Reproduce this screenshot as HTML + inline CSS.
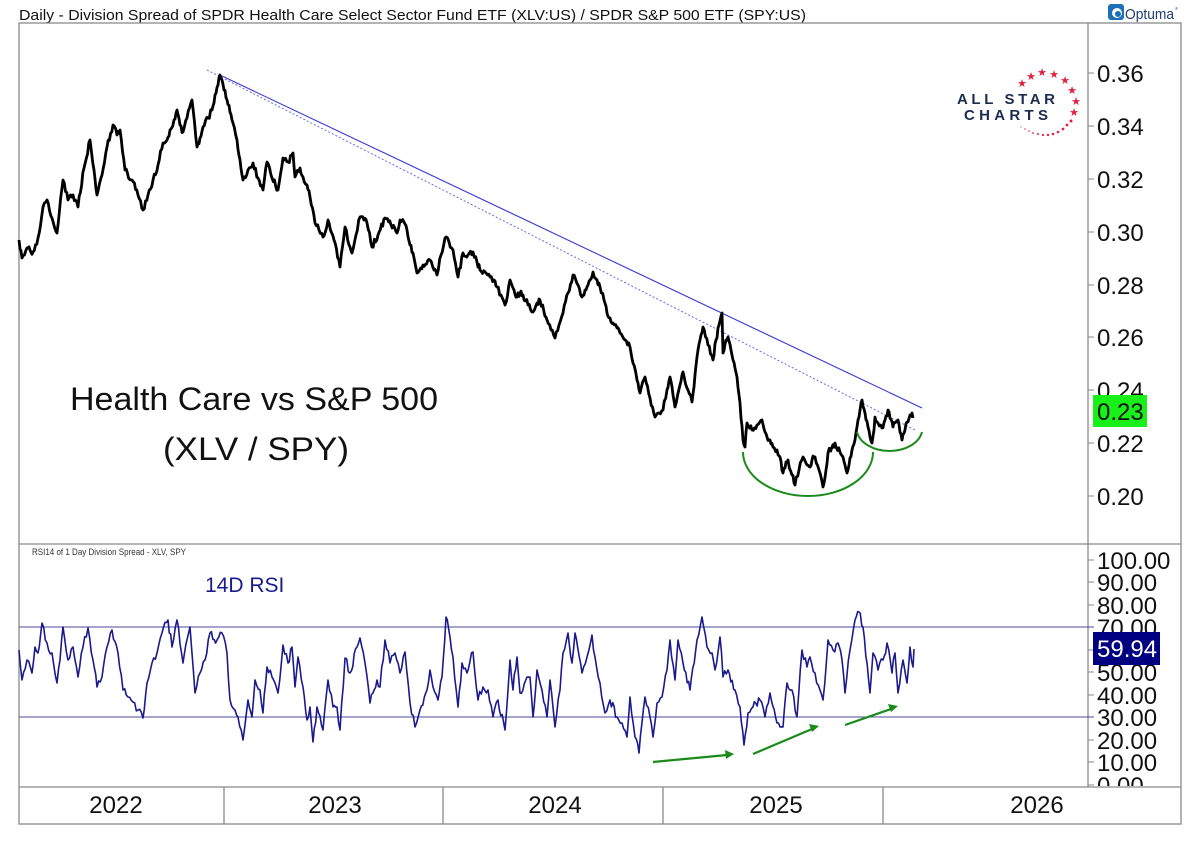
<!DOCTYPE html>
<html>
<head>
<meta charset="utf-8">
<style>
  html,body{margin:0;padding:0;background:#fff;}
  svg{display:block;}
  text{font-family:"Liberation Sans", Arial, sans-serif;}
</style>
</head>
<body>
<svg width="1200" height="848" viewBox="0 0 1200 848" xmlns="http://www.w3.org/2000/svg">
  <rect x="0" y="0" width="1200" height="848" fill="#fff"/>

  <!-- Title -->
  <text x="19" y="20" font-size="15" fill="#111" textLength="787" lengthAdjust="spacingAndGlyphs">Daily - Division Spread of SPDR Health Care Select Sector Fund ETF (XLV:US) / SPDR S&amp;P 500 ETF (SPY:US)</text>

  <!-- Optuma logo -->
  <rect x="1108" y="4" width="16" height="16" rx="3" fill="#1d6fb8"/>
  <circle cx="1117" cy="13" r="5" fill="#fff"/>
  <circle cx="1118" cy="14" r="3" fill="#1d6fb8"/>
  <text x="1125" y="19" font-size="15" fill="#1f3d73" textLength="49" lengthAdjust="spacingAndGlyphs">Optuma</text>
  <text x="1175" y="10" font-size="4" fill="#1f3d73">®</text>

  <!-- Frame -->
  <g stroke="#8a8a8a" stroke-width="1.3" fill="none">
    <rect x="19" y="23" width="1162" height="801"/>
    <line x1="1088" y1="23" x2="1088" y2="787"/>
    <line x1="19" y1="544" x2="1181" y2="544"/>
    <line x1="19" y1="787" x2="1181" y2="787"/>
    <line x1="224" y1="787" x2="224" y2="824"/>
    <line x1="443" y1="787" x2="443" y2="824"/>
    <line x1="663" y1="787" x2="663" y2="824"/>
    <line x1="883" y1="787" x2="883" y2="824"/>
  </g>

  <!-- Main axis ticks -->
  <g stroke="#8a8a8a" stroke-width="1">
    <line x1="1088" y1="73" x2="1094" y2="73"/>
    <line x1="1088" y1="126" x2="1094" y2="126"/>
    <line x1="1088" y1="179" x2="1094" y2="179"/>
    <line x1="1088" y1="232" x2="1094" y2="232"/>
    <line x1="1088" y1="285" x2="1094" y2="285"/>
    <line x1="1088" y1="337" x2="1094" y2="337"/>
    <line x1="1088" y1="390" x2="1094" y2="390"/>
    <line x1="1088" y1="443" x2="1094" y2="443"/>
    <line x1="1088" y1="496" x2="1094" y2="496"/>
  </g>
  <g font-size="24" fill="#111">
    <text x="1097" y="82">0.36</text>
    <text x="1097" y="135">0.34</text>
    <text x="1097" y="188">0.32</text>
    <text x="1097" y="241">0.30</text>
    <text x="1097" y="294">0.28</text>
    <text x="1097" y="346">0.26</text>
    <text x="1097" y="399">0.24</text>
    <text x="1097" y="452">0.22</text>
    <text x="1097" y="505">0.20</text>
  </g>
  <!-- Green value box -->
  <rect x="1093" y="395" width="54" height="32" fill="#19f019"/>
  <text x="1097" y="420" font-size="24" fill="#111">0.23</text>

  <!-- All Star Charts logo -->
  <text x="957" y="104" font-size="15" font-weight="bold" fill="#1b2d4f" textLength="98" lengthAdjust="spacing">ALL STAR</text>
  <text x="964" y="120" font-size="15" font-weight="bold" fill="#1b2d4f" textLength="84" lengthAdjust="spacing">CHARTS</text>
  <g font-size="11" fill="#e2203f" text-anchor="middle" font-family="DejaVu Sans, sans-serif">
    <text x="1022" y="87">★</text>
    <text x="1031" y="80">★</text>
    <text x="1042" y="76">★</text>
    <text x="1054" y="78">★</text>
    <text x="1065" y="84">★</text>
    <text x="1072" y="94">★</text>
    <text x="1076" y="105">★</text>
    <text x="1074" y="116">★</text>
  </g>
  <g fill="#e2203f">
    <circle cx="1071" cy="121" r="1.5"/>
    <circle cx="1067" cy="125" r="1.4"/>
    <circle cx="1063" cy="129" r="1.4"/>
    <circle cx="1058" cy="132" r="1.3"/>
    <circle cx="1053" cy="134" r="1.3"/>
    <circle cx="1048" cy="135" r="1.2"/>
    <circle cx="1043" cy="135" r="1.1"/>
    <circle cx="1038" cy="134" r="1"/>
    <circle cx="1033" cy="133" r="0.9"/>
    <circle cx="1029" cy="131" r="0.8"/>
    <circle cx="1025" cy="129" r="0.7"/>
    <circle cx="1021" cy="127" r="0.6"/>
  </g>

  <!-- Big label -->
  <text x="70" y="410" font-size="32" fill="#111" textLength="368" lengthAdjust="spacingAndGlyphs">Health Care vs S&amp;P 500</text>
  <text x="163" y="460" font-size="32" fill="#111" textLength="186" lengthAdjust="spacingAndGlyphs">(XLV / SPY)</text>

  <!-- Trendlines -->
  <line x1="207" y1="70" x2="915" y2="430" stroke="#6a6ae0" stroke-width="1" stroke-dasharray="2,2"/>
  <line x1="222" y1="76" x2="922" y2="408" stroke="#3a3ad8" stroke-width="1.1"/>

  <!-- Price series -->
  <polyline id="price" fill="none" stroke="#000" stroke-width="2.8" stroke-linejoin="round" points="19,240 22,258 27,248 30,250 33,252 38,238 43,207 47,200 52,218 57,233 63,180 68,200 73,195 78,207 84,168 90,140 94,170 97,195 102,175 107,147 113,125 117,135 120,130 125,170 132,180 138,195 143,210 148,195 153,180 158,165 163,143 167,140 170,130 174,120 177,110 180,125 183,132 187,118 192,100 197,147 200,138 203,127 208,118 212,110 215,95 218,85 220,75 222,80 224,90 227,100 230,112 233,123 237,140 240,160 243,180 248,170 253,163 258,178 263,190 267,162 272,178 278,190 283,158 288,162 293,153 295,177 300,168 303,177 307,185 310,197 315,223 319,230 323,237 328,220 334,240 340,267 345,227 349,245 352,253 356,235 360,217 364,220 367,223 372,247 378,235 385,218 391,225 397,233 400,220 404,222 407,230 410,245 413,253 417,273 423,265 430,260 434,270 437,275 441,255 445,238 449,242 453,250 458,277 463,253 468,255 473,252 477,262 480,270 485,272 490,277 494,280 497,287 501,295 505,305 510,280 514,290 517,297 520,293 523,295 528,305 533,312 537,303 540,300 544,312 547,320 551,330 555,338 559,325 563,313 568,293 573,275 578,285 582,297 585,290 587,287 590,280 593,272 597,280 600,287 604,300 607,313 610,318 613,323 617,328 620,333 625,340 630,347 633,363 637,380 640,393 645,377 650,398 655,417 659,413 663,410 667,390 670,377 673,395 675,407 680,385 683,372 688,390 692,402 695,375 698,350 701,335 703,327 708,345 713,360 716,340 719,325 722,313 723,353 726,340 728,337 731,350 733,360 735,368 737,377 740,403 743,440 745,447 747,423 752,430 757,425 762,420 765,432 767,437 770,440 773,447 777,450 780,457 783,473 786,462 788,460 792,475 795,485 799,470 803,457 807,465 810,467 812,460 815,457 819,470 823,487 826,470 828,453 832,447 835,443 840,452 843,457 845,465 847,473 850,458 852,450 855,440 857,427 860,410 862,400 865,413 868,427 870,437 872,443 874,430 875,417 878,423 882,428 885,420 888,410 890,418 893,427 896,422 898,420 900,432 902,440 905,430 907,422 910,415 912,413 913,418"/>

  <!-- Green arcs -->
  <path d="M743,452 A65,44 0 0 0 873,452" fill="none" stroke="#1a8a1a" stroke-width="2"/>
  <path d="M857,432 A33,23 0 0 0 922,432" fill="none" stroke="#1a8a1a" stroke-width="2"/>

  <!-- RSI panel -->
  <text x="32" y="555" font-size="9" fill="#333" textLength="154" lengthAdjust="spacingAndGlyphs">RSI14 of 1 Day Division Spread - XLV, SPY</text>
  <text x="205" y="592" font-size="21" fill="#1a1a8c">14D RSI</text>

  <line x1="19" y1="627" x2="1094" y2="627" stroke="#4a4a9a" stroke-width="1.1"/>
  <line x1="19" y1="717" x2="1094" y2="717" stroke="#4a4a9a" stroke-width="1.1"/>

  <g stroke="#8a8a8a" stroke-width="1">
    <line x1="1088" y1="560" x2="1094" y2="560"/>
    <line x1="1088" y1="582" x2="1094" y2="582"/>
    <line x1="1088" y1="605" x2="1094" y2="605"/>
    <line x1="1088" y1="650" x2="1094" y2="650"/>
    <line x1="1088" y1="672" x2="1094" y2="672"/>
    <line x1="1088" y1="695" x2="1094" y2="695"/>
    <line x1="1088" y1="740" x2="1094" y2="740"/>
    <line x1="1088" y1="762" x2="1094" y2="762"/>
    <line x1="1088" y1="785" x2="1094" y2="785"/>
  </g>
  <defs>
    <clipPath id="rsiclip"><rect x="1089" y="545" width="92" height="241"/></clipPath>
  </defs>
  <g font-size="24" fill="#111" clip-path="url(#rsiclip)">
    <text x="1097" y="569">100.00</text>
    <text x="1097" y="591">90.00</text>
    <text x="1097" y="614">80.00</text>
    <text x="1097" y="636">70.00</text>
    <text x="1097" y="681">50.00</text>
    <text x="1097" y="704">40.00</text>
    <text x="1097" y="726">30.00</text>
    <text x="1097" y="749">20.00</text>
    <text x="1097" y="771">10.00</text>
    <text x="1097" y="794">0.00</text>
  </g>
  <rect x="1093" y="632" width="67" height="33" fill="#000080"/>
  <text x="1097" y="657" font-size="24" fill="#fff">59.94</text>

  <!-- RSI series -->
  <polyline id="rsi" fill="none" stroke="#1a1a8c" stroke-width="1.6" stroke-linejoin="round" points="19,650 22,680 27,660 32,673 35,647 38,653 42,623 47,643 52,653 57,683 60,660 63,627 68,660 73,647 78,677 83,647 88,628 93,660 97,687 102,677 107,647 112,630 118,653 123,690 128,697 133,702 138,710 143,718 147,683 152,663 157,653 162,633 168,620 172,647 177,620 183,663 190,627 195,693 200,673 205,660 210,633 217,640 222,633 227,653 230,700 235,710 238,717 243,740 248,700 252,717 255,680 260,690 263,713 267,667 272,677 278,693 283,645 288,663 292,647 295,687 298,657 303,687 307,720 310,707 313,742 317,707 323,730 328,680 333,707 337,707 340,730 345,658 350,673 357,647 360,638 365,663 370,703 377,680 380,687 385,640 390,663 395,653 400,673 405,652 410,703 415,727 420,710 427,690 430,670 433,687 438,700 442,677 446,617 450,637 453,657 458,707 462,663 467,673 473,652 478,700 483,687 488,690 493,717 498,700 505,730 510,660 513,690 517,657 520,693 527,677 530,677 533,717 537,670 542,690 547,717 550,680 555,727 560,690 563,653 568,633 572,663 575,633 582,673 587,657 592,635 595,657 600,683 605,713 610,700 617,717 622,723 627,737 630,697 635,737 639,753 645,697 650,717 653,737 657,703 662,697 667,670 670,640 675,680 678,640 683,663 690,690 697,640 702,617 707,647 712,653 715,670 720,637 723,677 728,670 735,690 740,707 744,745 748,713 753,707 760,700 765,717 770,693 777,723 783,727 787,683 792,690 797,717 802,650 807,667 810,657 815,673 820,690 823,700 828,640 833,650 838,643 842,660 845,693 850,650 855,620 859,612 863,627 870,693 873,653 878,670 883,660 887,643 892,673 895,653 898,693 903,660 907,683 910,647 913,667 914,649"/>

  <!-- Green arrows -->
  <g stroke="#1a8a1a" stroke-width="2.2" fill="#1a8a1a">
    <line x1="653" y1="762" x2="727" y2="755"/>
    <polygon points="734,754 725,750 726,759" stroke="none"/>
    <line x1="753" y1="754" x2="812" y2="729"/>
    <polygon points="819,726 809,724 812,732" stroke="none"/>
    <line x1="845" y1="725" x2="891" y2="709"/>
    <polygon points="898,706 888,704 891,712" stroke="none"/>
  </g>

  <!-- Date axis labels -->
  <g font-size="24" fill="#111" text-anchor="middle">
    <text x="116" y="813">2022</text>
    <text x="335" y="813">2023</text>
    <text x="555" y="813">2024</text>
    <text x="776" y="813">2025</text>
    <text x="1037" y="813">2026</text>
  </g>
</svg>
<script>
(function(){
  function rng(seed){return function(){seed|=0;seed=seed+0x6D2B79F5|0;var t=Math.imul(seed^seed>>>15,1|seed);t=t+Math.imul(t^t>>>7,61|t)^t;return((t^t>>>14)>>>0)/4294967296;};}
  function densify(id, step, amp, seed){
    var el=document.getElementById(id); if(!el) return;
    var raw=el.getAttribute('points').trim().split(/\s+/).map(function(p){var a=p.split(',');return [parseFloat(a[0]),parseFloat(a[1])];});
    var r=rng(seed), out=[];
    for(var i=0;i<raw.length-1;i++){
      var a=raw[i], b=raw[i+1];
      out.push(a[0].toFixed(1)+','+a[1].toFixed(1));
      var dx=b[0]-a[0]; var n=Math.max(1,Math.round(dx/step));
      for(var k=1;k<n;k++){
        var t=k/n;
        var x=a[0]+dx*t, y=a[1]+(b[1]-a[1])*t + (r()-0.5)*amp;
        out.push(x.toFixed(1)+','+y.toFixed(1));
      }
    }
    var l=raw[raw.length-1]; out.push(l[0]+','+l[1]);
    el.setAttribute('points', out.join(' '));
  }
  densify('price', 1.2, 6, 12345);
  densify('rsi', 1.5, 9, 6789);
})();
</script>
</body>
</html>
